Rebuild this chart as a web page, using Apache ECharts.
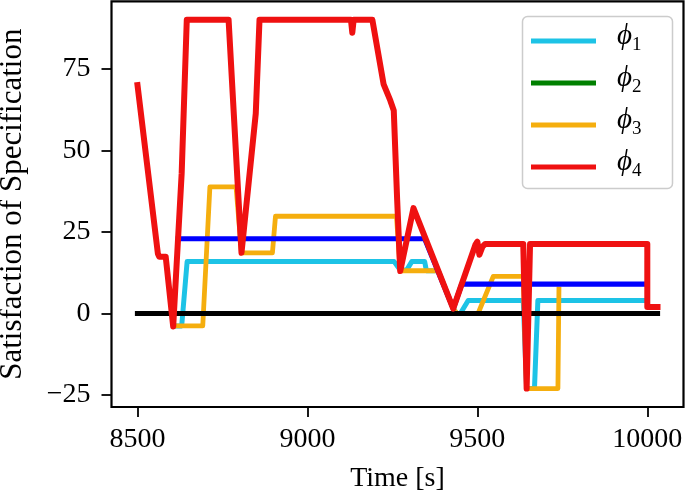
<!DOCTYPE html>
<html>
<head>
<meta charset="utf-8">
<script src="https://cdn.jsdelivr.net/npm/echarts@6/dist/echarts.min.js"></script>
<style>
html,body{margin:0;padding:0;background:#fff;}
#chart{width:685px;height:495px;}
</style>
</head>
<body>
<div id="chart"></div>
<script>
// ---- data (time [s], satisfaction) ----
const xTicks = [8500, 9000, 9500, 10000];
const yTicks = [-25, 0, 25, 50, 75];
const legendNames = ['phi1', 'phi2', 'phi3', 'phi4'];

const phi1 = [[8612,-3.8],[8630,-3.8],[8646,15.9],[9255,15.9],[9273,13.3],[9292,13.3],[9307,15.9],[9345,15.9],[9350,13.1],[9385,13.1],[9429,1.5],[9440,0],[9450,0],[9473,4],[9635,4],[9645,-23],[9668,-23],[9678,4],[10000,4]];
const phi2 = [];
const phi3 = [[8612,-3.8],[8692,-3.8],[8713,38.8],[8790,38.8],[8806,18.6],[8897,18.6],[8906,29.8],[9262,29.8],[9273,13.1],[9385,13.1],[9429,1.5],[9440,0],[9502,0],[9547,11.4],[9635,11.4],[9645,-23],[9737,-23],[9740,7.5]];
const phi4 = [[8500,70],[8560,18.3],[8564,17.4],[8583,17.4],[8605,-4],[8630,43],[8645,90],[8768,90],[8806,18.6],[8848,61.3],[8859,90],[9128,90],[9132,86],[9136,90],[9191,90],[9224,70.3],[9244,65.2],[9254,62.2],[9264,34.8],[9273,13],[9312,32.3],[9429,1.5],[9494,21],[9500,22],[9506,18],[9515,20.5],[9523,21.3],[9635,21.3],[9645,-23],[9655,21.3],[10000,21.3],[10000,2],[10030,2]];
const bound = [[8620,22.9],[9345,22.9],[9429,1.5],[9454,9],[10000,9]];
const zeroLine = [[8500,0],[10030,0]];

const FONT = "'Liberation Serif','DejaVu Serif',serif";
const chart = echarts.init(document.getElementById('chart'), null, {renderer:'canvas'});

function lineSeries(name, data, color, width, z){
  return {
    name: name, type: 'line', data: data, symbol: 'none', showSymbol: false,
    z: z, animation: false, silent: true,
    lineStyle: {color: color, width: width, cap: 'square', join: 'round'},
    itemStyle: {color: color}
  };
}

chart.setOption({
  animation: false,
  backgroundColor: '#fff',
  grid: {left: 111.5, right: 1.5, top: 1.3, bottom: 88, containLabel: false, outerBoundsMode: 'none',
    show: true, borderColor: '#000', borderWidth: 2.2, backgroundColor: 'transparent'},
  graphic: [{
    type: 'rect', z: 20, silent: true,
    shape: {x: 522.5, y: 16.5, width: 150, height: 172, r: 5},
    style: {fill: 'rgba(255,255,255,0.8)', stroke: '#cccccc', lineWidth: 1.5}
  }],
  xAxis: {
    type: 'value', min: 8423.5, max: 10106.5,
    name: 'Time [s]', nameLocation: 'middle', nameGap: 58,
    nameTextStyle: {fontFamily: FONT, fontSize: 28, color: '#000'},
    axisLine: {show: false, onZero: false},
    splitLine: {show: false},
    axisTick: {show: true, length: 10, lineStyle: {color: '#000', width: 1.8}, customValues: xTicks},
    axisLabel: {fontFamily: FONT, fontSize: 28, color: '#000', margin: 19, customValues: xTicks,
      formatter: function(v){ return String(v); }}
  },
  yAxis: {
    type: 'value', min: -28.65, max: 95.65,
    name: 'Satisfaction of Specification', nameLocation: 'middle', nameGap: 83,
    nameTextStyle: {fontFamily: FONT, fontSize: 31, color: '#000'},
    axisLine: {show: false, onZero: false},
    splitLine: {show: false},
    axisTick: {show: true, length: 10, lineStyle: {color: '#000', width: 1.8}, customValues: yTicks},
    axisLabel: {fontFamily: FONT, fontSize: 28, color: '#000', margin: 21, customValues: yTicks,
      formatter: function(v){ return v < 0 ? '\u2212' + Math.abs(v) : String(v); }}
  },
  legend: {
    data: legendNames, orient: 'vertical', left: 522, top: 16, z: 21,
    padding: [6, 10, 12, 9], itemWidth: 65, itemHeight: 5, itemGap: 9, icon: 'rect',
    backgroundColor: 'transparent', borderWidth: 0,
    selectedMode: false,
    formatter: function(n){ return '{p|\u03D5}{s|' + n.slice(3) + '}'; },
    textStyle: {
      color: '#000',
      rich: {
        p: {fontFamily: FONT, fontStyle: 'italic', fontSize: 29, lineHeight: 28, padding: [0,0,4,16], verticalAlign: 'bottom', color: '#000'},
        s: {fontFamily: FONT, fontSize: 19, lineHeight: 18, verticalAlign: 'bottom', color: '#000'}
      }
    }
  },
  series: [
    lineSeries('phi1', phi1, '#1DC3E6', 5, 2),
    lineSeries('phi2', phi2, '#008000', 5, 3),
    lineSeries('phi3', phi3, '#F5AE0E', 4.8, 4),
    lineSeries('bound', bound, '#0000FF', 5.2, 5),
    lineSeries('zero', zeroLine, '#000000', 5.2, 6),
    lineSeries('phi4', phi4, '#EF1111', 6, 7)
  ]
});
</script>
</body>
</html>
